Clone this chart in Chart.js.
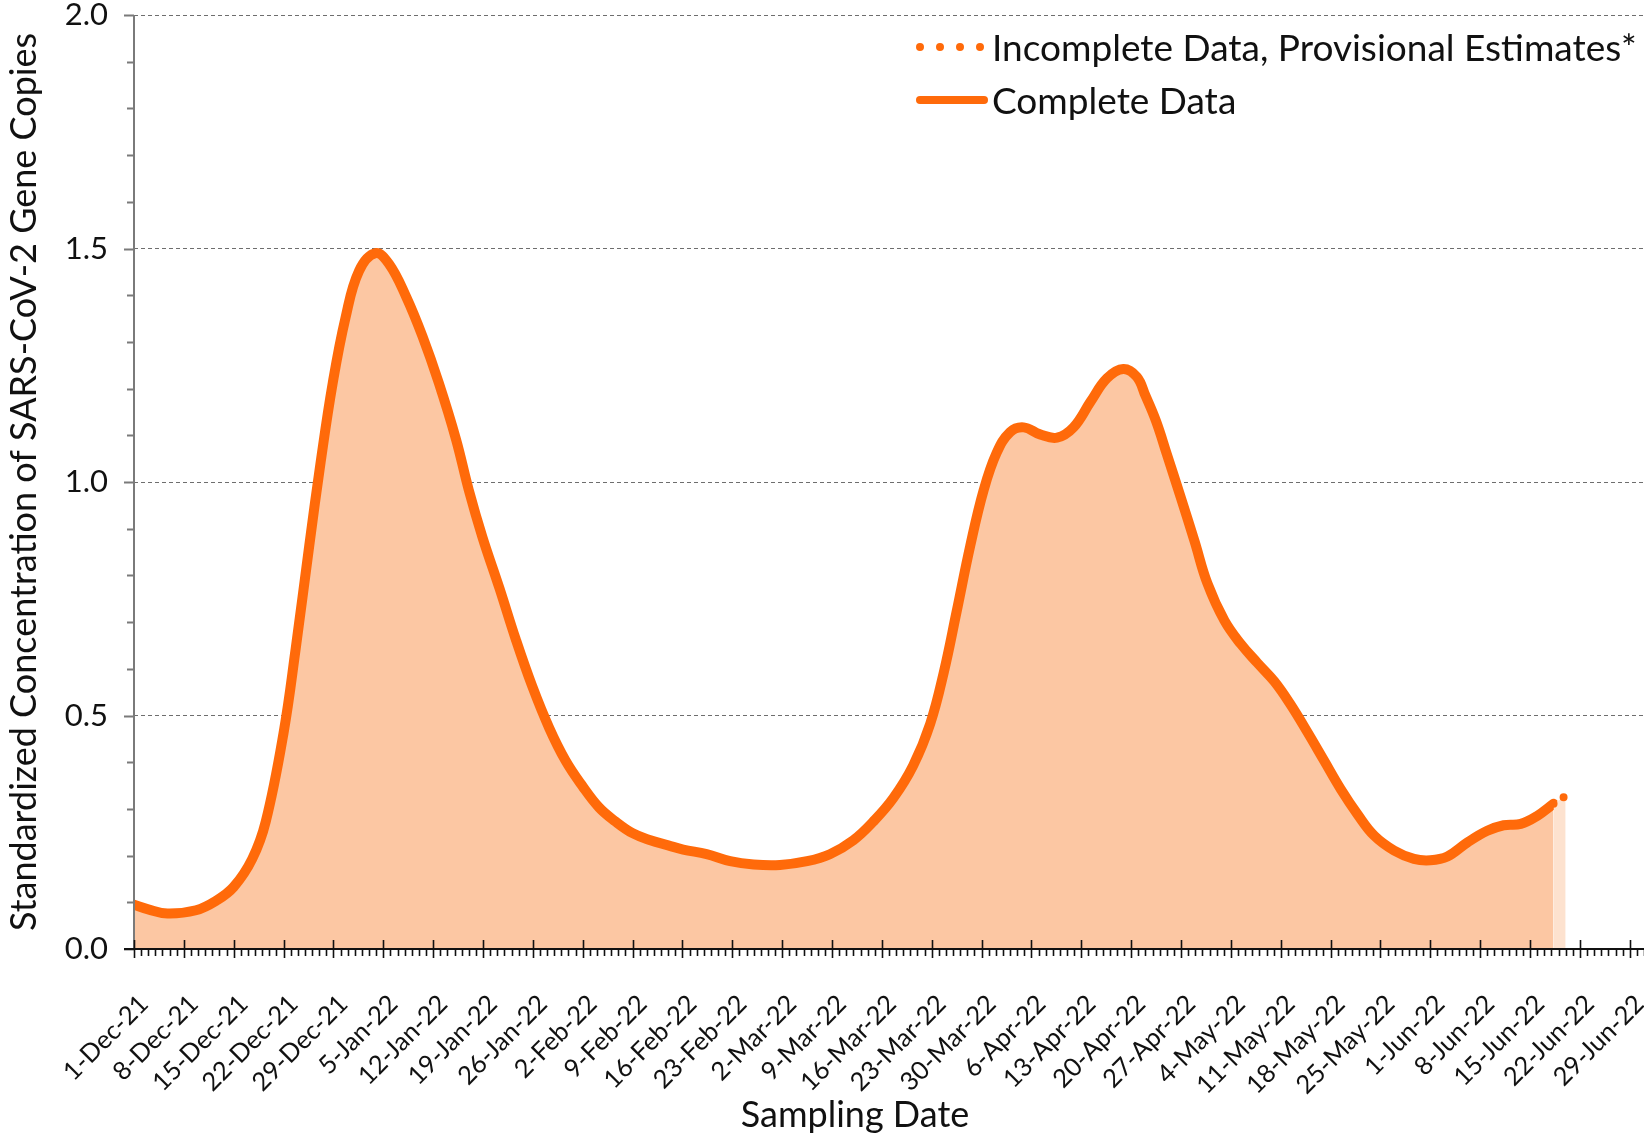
<!DOCTYPE html>
<html>
<head>
<meta charset="utf-8">
<script src="https://cdn.jsdelivr.net/npm/chart.js@4/dist/chart.umd.min.js"></script>
<style>
  html, body { margin: 0; padding: 0; background: #ffffff; }
  #wrap { position: relative; width: 1644px; height: 1138px; }
  #legend { position: absolute; left: 916px; top: 20px; font-family: Lato, "Open Sans", sans-serif; font-size: 37px; color: #111; }
  .row { display: flex; align-items: center; height: 53px; white-space: nowrap; }
  .row svg { flex: none; width: 76px; height: 20px; }
</style>
</head>
<body>
<div id="wrap">
  <canvas id="c" width="1644" height="1138"></canvas>
  <div id="legend"></div>
</div>
<script>
// ---- Data (days since 1-Dec-2021) ----
const sampleDays = [
  0, 2, 4.7, 8.7, 11.5, 14, 16.6, 18.5, 21, 22.7, 24.6, 26.2, 27.9, 29.7, 31.6, 33.9,
  35.8, 38.2, 40.5, 42.8, 45.2, 47, 48.9, 51.3, 53.6, 55.9, 58.3, 60.6, 63, 65.3, 67.6,
  70, 72.5, 75, 77.1, 80.4, 83.7, 87, 90.7, 94.5, 97.7, 101, 103.8, 106.6, 109.4, 111.8,
  113.7, 115.5, 117.4, 119.3, 121.1, 123, 124.9, 127.2, 129.6, 131.9, 134.3, 136.6,
  138.9, 140.8, 142, 143.5, 145, 147, 148.9, 150.7, 153.1, 155.4, 157.7, 160.1,
  162.4, 164.8, 167.1, 169.4, 171.8, 174.1, 176.9, 179.7, 182, 184.4, 187.2, 190,
  192.3, 194.7, 197, 199.3
];
const completeValues = [
  0.095, 0.085, 0.076, 0.083, 0.103, 0.133, 0.193, 0.273, 0.463, 0.643, 0.863, 1.042, 1.212, 1.352, 1.452, 1.49,
  1.467, 1.397, 1.312, 1.212, 1.092, 0.983, 0.883, 0.773, 0.663, 0.563, 0.473, 0.403, 0.348, 0.303, 0.273,
  0.248, 0.233, 0.222, 0.213, 0.203, 0.188, 0.181, 0.18, 0.188, 0.203, 0.233, 0.273, 0.323, 0.393, 0.483,
  0.593, 0.723, 0.863, 0.983, 1.062, 1.107, 1.117, 1.102, 1.095, 1.117, 1.172, 1.222,
  1.242, 1.225, 1.185, 1.13, 1.06, 0.965, 0.873, 0.783, 0.703, 0.653, 0.613, 0.573,
  0.523, 0.463, 0.403, 0.343, 0.288, 0.243, 0.211, 0.193, 0.19, 0.198, 0.228, 0.253,
  0.265, 0.268, 0.285, 0.311
];
const incompleteDays = [199.3, 201.0];
const incompleteValues = [0.311, 0.328];

const xTickLabels = [
  '1-Dec-21', '8-Dec-21', '15-Dec-21', '22-Dec-21', '29-Dec-21', '5-Jan-22', '12-Jan-22',
  '19-Jan-22', '26-Jan-22', '2-Feb-22', '9-Feb-22', '16-Feb-22', '23-Feb-22', '2-Mar-22',
  '9-Mar-22', '16-Mar-22', '23-Mar-22', '30-Mar-22', '6-Apr-22', '13-Apr-22', '20-Apr-22',
  '27-Apr-22', '4-May-22', '11-May-22', '18-May-22', '25-May-22', '1-Jun-22', '8-Jun-22',
  '15-Jun-22', '22-Jun-22', '29-Jun-22'
];
const yTickValues = [0, 0.5, 1.0, 1.5, 2.0];
const seriesNames = ['Incomplete Data, Provisional Estimates*', 'Complete Data'];
const xTitle = 'Sampling Date';
const yTitle = 'Standardized Concentration of SARS-CoV-2 Gene Copies';

// ---- Styles ----
const LINE = '#ff6a0a';
const FILL = '#fcc7a3';
const FILL_LIGHT = '#fde2cf';
const FONT = 'Lato, "Open Sans", sans-serif';

const toPoints = (xs, ys) => xs.map((d, i) => ({ x: d, y: ys[i] }));

const axisPlugin = {
  id: 'axisTicks',
  afterDatasetsDraw(chart) {
    const { ctx, chartArea: a, scales: { x, y } } = chart;
    ctx.save();
    // y axis + ticks
    ctx.strokeStyle = '#7a7a7a';
    ctx.lineWidth = 2;
    ctx.beginPath();
    ctx.moveTo(a.left, a.top);
    ctx.lineTo(a.left, a.bottom);
    const yStep = 0.1;
    const nY = Math.round((y.max - y.min) / yStep);
    for (let i = 0; i <= nY; i++) {
      const v = y.min + i * yStep;
      const py = Math.round(y.getPixelForValue(v)) + 0.5;
      const major = i % 5 === 0;
      ctx.moveTo(a.left - (major ? 10 : 7), py);
      ctx.lineTo(a.left, py);
    }
    ctx.stroke();
    // x axis + ticks
    ctx.strokeStyle = '#111';
    ctx.beginPath();
    ctx.moveTo(a.left - 10, a.bottom);
    ctx.lineTo(a.right, a.bottom);
    ctx.stroke();
    ctx.lineWidth = 1.6;
    ctx.beginPath();
    for (let d = Math.ceil(x.min); d <= x.max; d++) {
      const px = Math.round(x.getPixelForValue(d)) + 0.5;
      if (d % 7 === 0) {
        ctx.moveTo(px, a.bottom - 9);
        ctx.lineTo(px, a.bottom + 9);
      } else {
        ctx.moveTo(px, a.bottom);
        ctx.lineTo(px, a.bottom + 7);
      }
    }
    ctx.stroke();
    // x axis title, placed under the axis
    ctx.fillStyle = '#111';
    ctx.font = '36px ' + FONT;
    ctx.textAlign = 'center';
    ctx.textBaseline = 'alphabetic';
    ctx.fillText(xTitle, a.left + 721, x.bottom - 11);
    ctx.restore();
  }
};

const chart = new Chart(document.getElementById('c'), {
  type: 'line',
  data: {
    datasets: [
      {
        label: seriesNames[1],
        data: toPoints(sampleDays, completeValues),
        borderColor: LINE,
        backgroundColor: FILL,
        borderWidth: 10,
        fill: 'origin',
        pointRadius: 0,
        tension: 0.4,
        borderCapStyle: 'round',
        borderJoinStyle: 'round',
        order: 2
      },
      {
        label: seriesNames[0],
        data: toPoints(incompleteDays, incompleteValues),
        borderColor: LINE,
        backgroundColor: FILL_LIGHT,
        borderWidth: 8,
        borderDash: [0, 12],
        borderCapStyle: 'round',
        fill: 'origin',
        pointRadius: 0,
        order: 1
      }
    ]
  },
  options: {
    responsive: false,
    devicePixelRatio: 1,
    animation: false,
    layout: { padding: { top: 15, left: 0, right: 0, bottom: 0 } },
    plugins: { legend: { display: false }, tooltip: { enabled: false } },
    scales: {
      x: {
        type: 'linear',
        min: 0,
        max: 212,
        border: { display: false },
        grid: { display: false, drawTicks: false },
        title: { display: false, text: xTitle },
        ticks: {
          stepSize: 7,
          includeBounds: false,
          autoSkip: false,
          maxRotation: 45,
          minRotation: 45,
          padding: 40,
          labelOffset: 10,
          color: '#111',
          font: { family: FONT, size: 25.5 },
          callback: (v) => (v % 7 === 0 && xTickLabels[v / 7] !== undefined) ? xTickLabels[v / 7] : ''
        },
        afterFit: (s) => { s.height = 189; s.paddingLeft = 0; s.paddingRight = 0; }
      },
      y: {
        min: yTickValues[0],
        max: yTickValues[yTickValues.length - 1],
        border: { display: false, dash: [4, 3] },
        grid: {
          drawTicks: false,
          color: (c) => (c.tick && c.tick.value === 0) ? 'rgba(0,0,0,0)' : '#6e6e6e',
          lineWidth: 1
        },
        title: {
          display: true, text: yTitle, color: '#111',
          font: { family: FONT, size: 36 }, padding: { top: 3, bottom: 0 }
        },
        ticks: {
          stepSize: 0.5,
          padding: 26,
          color: '#111',
          font: { family: FONT, size: 31 },
          callback: (v) => yTickValues.includes(v) ? v.toFixed(1) : ''
        },
        afterFit: (s) => { s.width = 134; s.paddingTop = 0; s.paddingBottom = 0; }
      }
    }
  },
  plugins: [axisPlugin]
});

// ---- Legend (HTML) ----
const legend = document.getElementById('legend');
const sampleSvg = (dotted) => dotted
  ? `<svg viewBox="0 0 76 20"><line x1="4" y1="10" x2="66" y2="10" stroke="${LINE}" stroke-width="8" stroke-linecap="round" stroke-dasharray="0 20"/></svg>`
  : `<svg viewBox="0 0 76 20"><line x1="4" y1="10" x2="68" y2="10" stroke="${LINE}" stroke-width="8" stroke-linecap="round"/></svg>`;
legend.innerHTML = seriesNames.map((n, i) =>
  `<div class="row">${sampleSvg(i === 0)}<span>${n}</span></div>`).join('');
</script>
</body>
</html>
